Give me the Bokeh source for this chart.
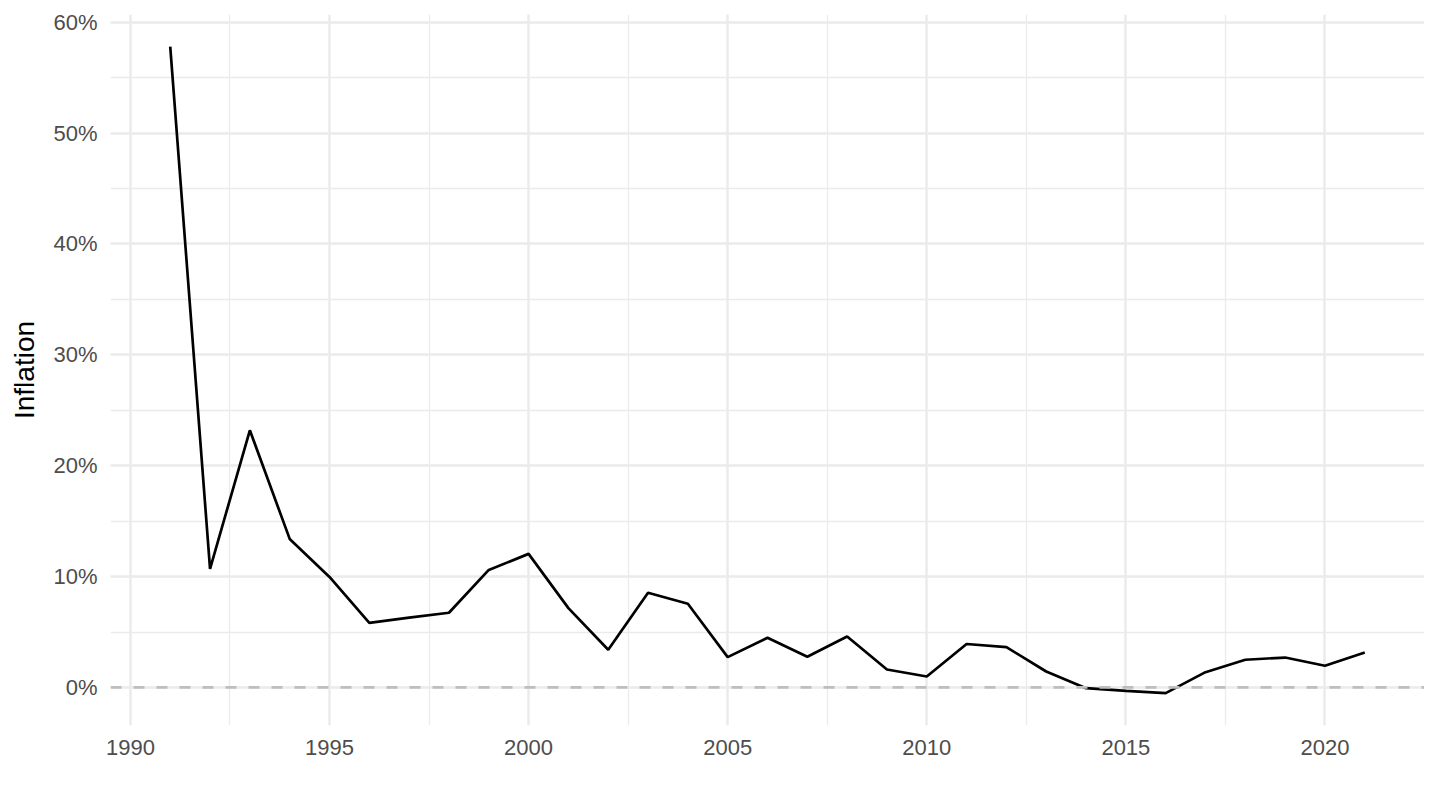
from bokeh.plotting import figure
from bokeh.models import Range1d, SingleIntervalTicker, PrintfTickFormatter, Span
from bokeh.embed import file_html
from bokeh.resources import INLINE

years = list(range(1991, 2022))
inflation = [57.8, 10.7, 23.2, 13.4, 9.97, 5.83, 6.3, 6.74, 10.6, 12.05,
             7.16, 3.4, 8.55, 7.55, 2.74, 4.48, 2.77, 4.6, 1.62, 0.99,
             3.92, 3.64, 1.44, -0.06, -0.3, -0.51, 1.38, 2.5, 2.7, 1.96, 3.16]
x_ticks_interval = 5
y_ticks_interval = 10
y_label = "Inflation"

FONT = "Liberation Sans"

p = figure(width=1424, height=794, output_backend="svg", toolbar_location=None,
           x_range=Range1d(1989.5, 2022.5), y_range=Range1d(-3.43, 60.7),
           min_border_left=110, min_border_right=0, min_border_top=14, min_border_bottom=69)
p.outline_line_color = None
p.background_fill_color = "white"

p.xaxis.ticker = SingleIntervalTicker(interval=x_ticks_interval, num_minor_ticks=2)
p.yaxis.ticker = SingleIntervalTicker(interval=y_ticks_interval, num_minor_ticks=2)
p.yaxis.formatter = PrintfTickFormatter(format="%d%%")
p.xgrid.ticker = p.xaxis.ticker
p.ygrid.ticker = p.yaxis.ticker

for ax in (p.xaxis, p.yaxis):
    ax.axis_line_color = None
    ax.major_tick_line_color = None
    ax.minor_tick_line_color = None
    ax.major_tick_out = 0
    ax.major_tick_in = 0
    ax.minor_tick_out = 0
    ax.minor_tick_in = 0
    ax.major_label_text_font = FONT
    ax.major_label_text_font_size = "22px"
    ax.major_label_text_color = "#4D4D4D"

p.xaxis.major_label_standoff = 14
p.yaxis.major_label_standoff = 13
p.yaxis.axis_label = y_label
p.yaxis.axis_label_text_font = FONT
p.yaxis.axis_label_text_font_size = "28px"
p.yaxis.axis_label_text_font_style = "normal"
p.yaxis.axis_label_text_color = "black"
p.yaxis.axis_label_standoff = 10

for g in (p.xgrid, p.ygrid):
    g.grid_line_color = "#EBEBEB"
    g.grid_line_width = 2.4
    g.minor_grid_line_color = "#EBEBEB"
    g.minor_grid_line_width = 1.3

zero = Span(location=0, dimension="width", line_color="#BEBEBE",
            line_dash="11 12", line_width=2.8)
p.add_layout(zero)

p.line(years, inflation, line_color="black", line_width=2.7)

open("out.html", "w").write(file_html(p, INLINE))
